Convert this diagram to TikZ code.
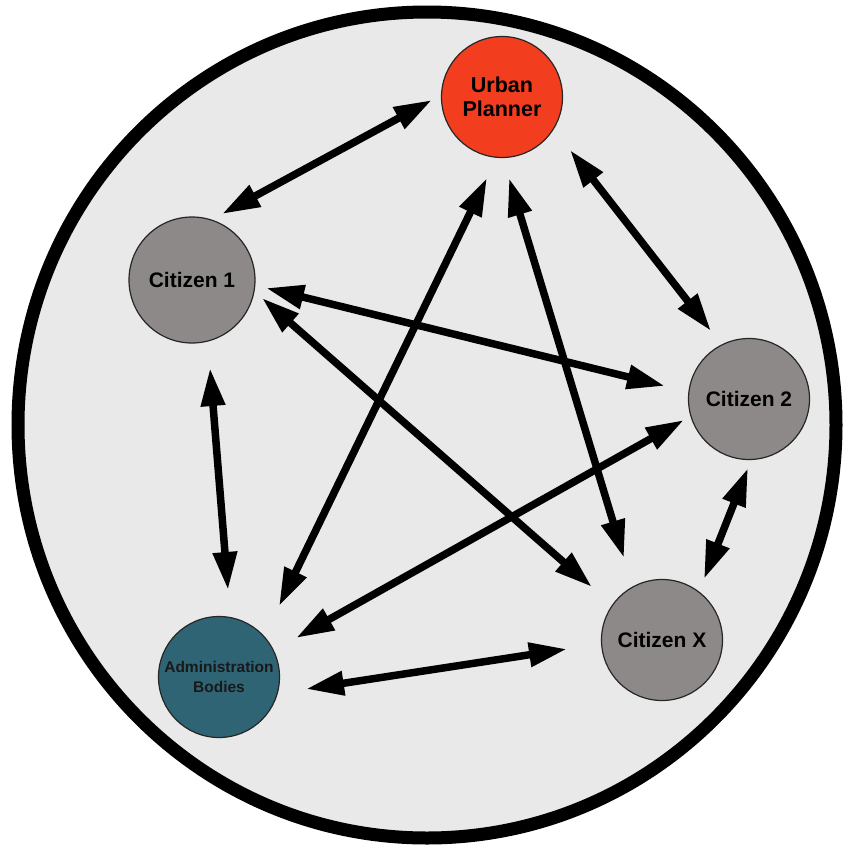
\documentclass[tikz,border=0pt]{standalone}
\usepackage{fontspec}
\setmainfont{Liberation Sans}
\usetikzlibrary{arrows.meta,calc}

\definecolor{plannerred}{HTML}{F23D1E}
\definecolor{citizengray}{HTML}{8D8989}
\definecolor{adminteal}{HTML}{2F6475}
\definecolor{groundgray}{HTML}{E9E9E9}

\tikzset{
  actor/.style={circle, draw=black!85, line width=1.2pt, minimum size=121pt,
    inner sep=0pt, align=center, font=\bfseries, text=black},
  link/.style={line width=7.5pt, line cap=butt,
    {Triangle[length=38pt,width=23pt]}-{Triangle[length=38pt,width=23pt]}},
}

\begin{document}
\begin{tikzpicture}[x=1pt, y=-1pt]
  \useasboundingbox (0,0) rectangle (848,849);

  % shared space of the participants
  \draw[line width=13pt, fill=groundgray] (427,425) ellipse[x radius=409pt, y radius=413pt];

  % participants
  \node[actor, fill=plannerred, font=\bfseries\fontsize{21.5}{24}\selectfont]
    (up) at (502,97) {Urban\\Planner};
  \node[actor, fill=citizengray, minimum size=126pt, font=\bfseries\fontsize{21}{24}\selectfont]
    (c1) at (192,280) {Citizen 1};
  \node[actor, fill=citizengray, font=\bfseries\fontsize{21}{24}\selectfont]
    (c2) at (749,399) {Citizen 2};
  \node[actor, fill=citizengray, font=\bfseries\fontsize{21}{24}\selectfont]
    (cx) at (662,640) {Citizen X};
  \node[actor, fill=adminteal, text=black!90, font=\bfseries\fontsize{15.5}{20}\selectfont]
    (ad) at (219,677) {Administration\\Bodies};

  % two-way exchanges between every pair
  \draw[link] ($(up)+(-70,3)$)  -- ($(c1)+(30,-66)$);
  \draw[link] ($(up)+(68,53)$)  -- ($(c2)+(-38,-68)$);
  \draw[link] ($(up)+(-15,81)$) -- ($(ad)+(60,-71)$);
  \draw[link] ($(up)+(7,81)$)   -- ($(cx)+(-38,-82)$);
  \draw[link] ($(c1)+(74,8)$)   -- ($(c2)+(-84,-13)$);
  \draw[link] ($(c1)+(70,18)$)  -- ($(cx)+(-70,-53)$);
  \draw[link] ($(c1)+(18,88)$)  -- ($(ad)+(9,-87)$);
  \draw[link] ($(c2)+(-65,21)$) -- ($(ad)+(77,-39)$);
  \draw[link] ($(c2)+(-1,69)$)  -- ($(cx)+(42,-61)$);
  \draw[link] ($(ad)+(87,12)$)  -- ($(cx)+(-95,9)$);
\end{tikzpicture}
\end{document}
